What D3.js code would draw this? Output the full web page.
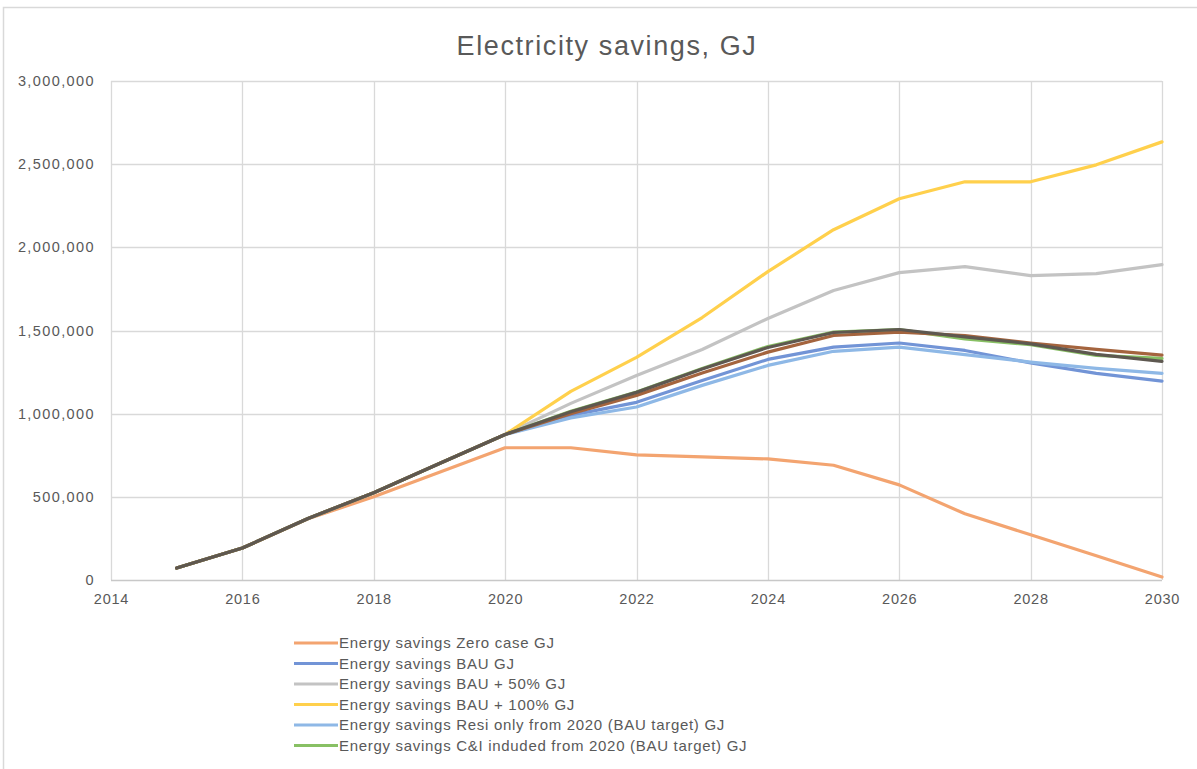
<!DOCTYPE html>
<html>
<head>
<meta charset="utf-8">
<script src="https://cdn.jsdelivr.net/npm/d3@7"></script>
<style>
  body { margin: 0; background: #fff; }
  svg { display: block; font-family: "Liberation Sans", Arial, sans-serif; }
</style>
</head>
<body>
<div id="chart"></div>
<script>
// --- data ---
const years = [2015, 2016, 2017, 2018, 2019, 2020, 2021, 2022, 2023, 2024, 2025, 2026, 2027, 2028, 2029, 2030];
const xTicks = [2014, 2016, 2018, 2020, 2022, 2024, 2026, 2028, 2030];
const yTicks = [0, 500000, 1000000, 1500000, 2000000, 2500000, 3000000];

const zeroCase = [72000, 192000, 368000, 500000, 648000, 795000, 795000, 752000, 740000, 728000, 690000, 572000, 398000, 272000, 146000, 18000];
const bau      = [72000, 192000, 370000, 525000, 700000, 875000, 990000, 1068000, 1200000, 1326000, 1400000, 1425000, 1380000, 1305000, 1242000, 1196000];
const bau50    = [72000, 192000, 370000, 525000, 700000, 875000, 1062000, 1230000, 1386000, 1572000, 1740000, 1848000, 1884000, 1830000, 1842000, 1896000];
const bau100   = [72000, 192000, 370000, 525000, 700000, 875000, 1134000, 1338000, 1578000, 1854000, 2106000, 2292000, 2394000, 2394000, 2496000, 2634000];
const resiOnly = [72000, 192000, 370000, 525000, 700000, 875000, 975000, 1040000, 1170000, 1290000, 1375000, 1400000, 1355000, 1310000, 1272000, 1242000];
const ciIncl   = [72000, 192000, 370000, 525000, 700000, 875000, 1015000, 1130000, 1272000, 1404000, 1490000, 1505000, 1450000, 1415000, 1350000, 1332000];
// two more series are drawn but their legend rows are cut off in the reference
const extraA   = [72000, 192000, 370000, 525000, 700000, 875000, 1000000, 1110000, 1245000, 1370000, 1470000, 1490000, 1470000, 1425000, 1386000, 1352000];
const extraB   = [72000, 192000, 370000, 525000, 700000, 875000, 1012000, 1128000, 1268000, 1398000, 1488000, 1506000, 1462000, 1420000, 1356000, 1314000];

const seriesNames = [
  "Energy savings Zero case GJ",
  "Energy savings BAU GJ",
  "Energy savings BAU + 50% GJ",
  "Energy savings BAU + 100% GJ",
  "Energy savings Resi only from 2020 (BAU target) GJ",
  "Energy savings C&I induded from 2020 (BAU target) GJ",
  "",
  ""
];
const seriesValues = [zeroCase, bau, bau50, bau100, resiOnly, ciIncl, extraA, extraB];
const seriesColors = ["#F3A470", "#7294D6", "#C3C3C3", "#FFD04C", "#8EB8E6", "#88C064", "#A4643E", "#5E5850"];

// --- layout ---
const width = 1197, height = 769;
const margin = { top: 81, right: 35, bottom: 189, left: 111 };

const svg = d3.select("#chart").append("svg")
  .attr("width", width)
  .attr("height", height);

// chart frame (only top/left visible in the reference)
svg.append("rect")
  .attr("x", 3.5).attr("y", 7.5)
  .attr("width", width + 20).attr("height", height + 20)
  .attr("fill", "none")
  .attr("stroke", "#D9D9D9")
  .attr("stroke-width", 1.5);

const x = d3.scaleLinear().domain([2014, 2030]).range([margin.left, width - margin.right]);
const y = d3.scaleLinear().domain([0, 3000000]).range([height - margin.bottom, margin.top]);

// title
svg.append("text")
  .attr("x", 607).attr("y", 55)
  .attr("text-anchor", "middle")
  .attr("fill", "#595959")
  .style("font-size", "27px")
  .style("letter-spacing", "1.6px")
  .text("Electricity savings, GJ");

// gridlines
svg.append("g").selectAll("line")
  .data(yTicks.filter(d => d > 0))
  .join("line")
  .attr("x1", x(2014)).attr("x2", x(2030))
  .attr("y1", d => Math.round(y(d)) + 0.5).attr("y2", d => Math.round(y(d)) + 0.5)
  .attr("stroke", "#D9D9D9").attr("stroke-width", 1.3);

svg.append("g").selectAll("line")
  .data(xTicks)
  .join("line")
  .attr("x1", d => Math.round(x(d)) + 0.5).attr("x2", d => Math.round(x(d)) + 0.5)
  .attr("y1", y(3000000)).attr("y2", y(0))
  .attr("stroke", "#D9D9D9").attr("stroke-width", 1.3);

// x axis line
svg.append("line")
  .attr("x1", x(2014)).attr("x2", x(2030))
  .attr("y1", Math.round(y(0)) + 0.5).attr("y2", Math.round(y(0)) + 0.5)
  .attr("stroke", "#C8C8C8").attr("stroke-width", 1.5);

// axes via d3 (lines hidden, labels kept)
const fmt = d3.format(",");
const yAxis = svg.append("g")
  .attr("transform", `translate(${margin.left - 16},0)`)
  .call(d3.axisLeft(y).tickValues(yTicks).tickSize(0).tickPadding(0).tickFormat(fmt));
yAxis.select(".domain").remove();
yAxis.selectAll("text")
  .attr("fill", "#595959")
  .style("font-size", "14.5px")
  .style("letter-spacing", "1.4px")
  .style("font-family", "'Liberation Sans', Arial, sans-serif");

const xAxis = svg.append("g")
  .attr("transform", `translate(0,${y(0) + 14})`)
  .call(d3.axisBottom(x).tickValues(xTicks).tickSize(0).tickPadding(0).tickFormat(d3.format("d")));
xAxis.select(".domain").remove();
xAxis.selectAll("text")
  .attr("fill", "#595959")
  .style("font-size", "14.5px")
  .style("letter-spacing", "0.8px")
  .style("font-family", "'Liberation Sans', Arial, sans-serif");

// lines
const line = d3.line()
  .x((d, i) => x(years[i]))
  .y(d => y(d));

svg.append("g").selectAll("path")
  .data(seriesValues)
  .join("path")
  .attr("d", d => line(d))
  .attr("fill", "none")
  .attr("stroke", (d, i) => seriesColors[i])
  .attr("stroke-width", 3.2)
  .attr("stroke-linejoin", "round")
  .attr("stroke-linecap", "round");

// legend
const legend = svg.append("g");
const legendItems = seriesNames.map((name, i) => ({ name, color: seriesColors[i] })).filter(d => d.name);
const row = legend.selectAll("g")
  .data(legendItems)
  .join("g")
  .attr("transform", (d, i) => `translate(294,${643 + i * 20.5})`);
row.append("line")
  .attr("x1", 0).attr("x2", 44)
  .attr("stroke", d => d.color)
  .attr("stroke-width", 3.2);
row.append("text")
  .attr("x", 45).attr("y", 5)
  .attr("fill", "#595959")
  .style("font-size", "15px")
  .style("letter-spacing", "0.7px")
  .text(d => d.name);
</script>
</body>
</html>
